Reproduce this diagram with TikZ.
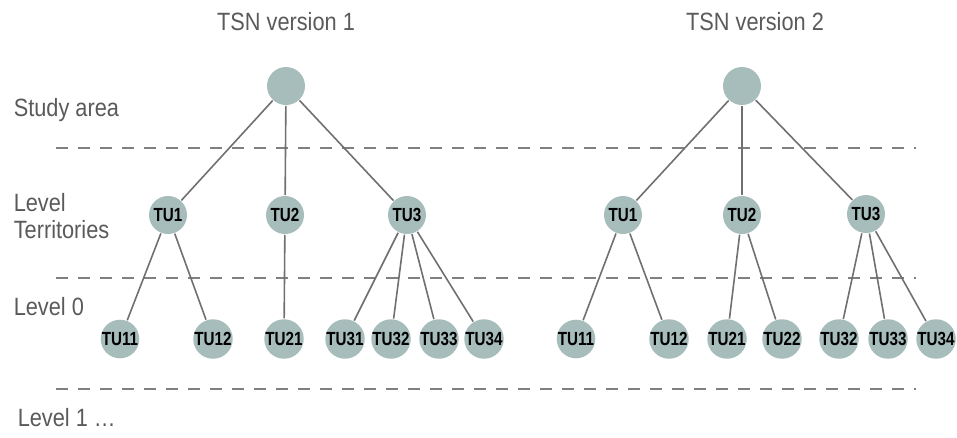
\documentclass[tikz,border=0pt]{standalone}
\usepackage{fontspec}
\setmainfont{Liberation Sans}[FakeStretch=0.87]
\newfontfamily\tufont{Liberation Sans}[FakeStretch=0.8]
\definecolor{nodegrey}{HTML}{A6BDBB}
\definecolor{textgrey}{HTML}{5A5A5A}
\definecolor{linegrey}{HTML}{707070}
\definecolor{dashgrey}{HTML}{808080}

\begin{document}
\begin{tikzpicture}[x=1pt,y=-1pt,line width=1.6pt,
  main node/.style={circle,fill=nodegrey,inner sep=0pt,minimum size=38pt,font=\tufont\fontsize{19}{19}\selectfont\bfseries},
  level label/.style={anchor=base west,inner sep=0pt,text=textgrey,font=\fontsize{25}{28}\selectfont},
  level line/.style={dashgrey,dash pattern=on 12pt off 10pt}]

  \useasboundingbox (0,0) rectangle (957,437);

  % titles and levels
  \node[level label,anchor=base] (t1) at (286,30) {TSN version 1};
  \node[level label,anchor=base] (t2) at (755,30) {TSN version 2};
  \node[level label] (l0) at (13,116) {Study area};
  \node[level label] (l1) at (13,211) {Level};
  \node[level label] (l2) at (13,238) {Territories};
  \node[level label] (l3) at (13,315) {Level 0};
  \node[level label] (l4) at (17,426) {Level 1 \dots};

  \coordinate (d1a) at (56,148);  \coordinate (d1b) at (916,148);
  \coordinate (d2a) at (56,278);  \coordinate (d2b) at (916,278);
  \coordinate (d3a) at (56,389);  \coordinate (d3b) at (916,389);
  \draw[level line] (d1a) -- (d1b);
  \draw[level line] (d2a) -- (d2b);
  \draw[level line] (d3a) -- (d3b);

  % TSN version 1
  \node[main node] (a) at (286,86) {};
  \node[main node] (a1) at (168,215) {TU1};
  \node[main node] (a2) at (285,215) {TU2};
  \node[main node] (a3) at (407,215) {TU3};
  \node[main node] (a11) at (120,339) {TU11};
  \node[main node] (a12) at (213,339) {TU12};
  \node[main node] (a21) at (284,339) {TU21};
  \node[main node] (a31) at (345,339) {TU31};
  \node[main node] (a32) at (391,339) {TU32};
  \node[main node] (a33) at (439,339) {TU33};
  \node[main node] (a34) at (484,339) {TU34};

  % TSN version 2
  \node[main node] (b) at (742,86) {};
  \node[main node] (b1) at (623,215) {TU1};
  \node[main node] (b2) at (742,215) {TU2};
  \node[main node] (b3) at (866,214) {TU3};
  \node[main node] (b11) at (576,339) {TU11};
  \node[main node] (b12) at (669,339) {TU12};
  \node[main node] (b21) at (727,339) {TU21};
  \node[main node] (b22) at (782,339) {TU22};
  \node[main node] (b32) at (839,339) {TU32};
  \node[main node] (b33) at (888,339) {TU33};
  \node[main node] (b34) at (936,339) {TU34};

  \path[draw,linegrey]
    (a) edge (a1)
    (a) edge (a2)
    (a) edge (a3)
    (a1) edge (a11)
    (a1) edge (a12)
    (a2) edge (a21)
    (a3) edge (a31)
    (a3) edge (a32)
    (a3) edge (a33)
    (a3) edge (a34);

  \path[draw,linegrey]
    (b) edge (b1)
    (b) edge (b2)
    (b) edge (b3)
    (b1) edge (b11)
    (b1) edge (b12)
    (b2) edge (b21)
    (b2) edge (b22)
    (b3) edge (b32)
    (b3) edge (b33)
    (b3) edge (b34);

\end{tikzpicture}
\end{document}
